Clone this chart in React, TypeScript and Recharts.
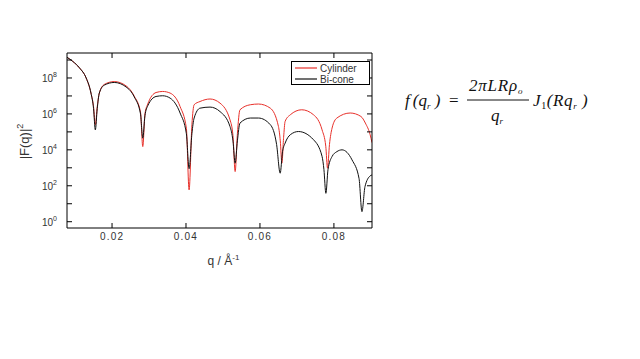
import { LineChart, Line, XAxis, YAxis } from 'recharts';

// q in 1/Å, intensities stored as log10 |F(q)|^2
const cylinderQ = [
  0.00782, 0.0094, 0.0112, 0.013, 0.0143, 0.015, 0.01548, 0.016, 0.01656, 0.0179,
  0.0206, 0.0238, 0.026, 0.0277, 0.02831, 0.0289, 0.02966, 0.0319, 0.0337, 0.0357,
  0.0384, 0.0401, 0.04084, 0.0416, 0.0422, 0.0438, 0.0465, 0.0492, 0.0519, 0.0527,
  0.05329, 0.0539, 0.0546, 0.0574, 0.0596, 0.0628, 0.065, 0.0655, 0.06593, 0.0664,
  0.0668, 0.0682, 0.0713, 0.0745, 0.0768, 0.0778, 0.07827, 0.0788, 0.0795, 0.0808,
  0.0844, 0.0873, 0.0885, 0.0898, 0.0903,
];
const cylinderLog = [
  9.15, 8.92, 8.56, 8.0, 7.16, 6.4, 5.39, 6.4, 7.16, 7.64,
  7.8, 7.56, 6.99, 6.1, 4.18, 6.0, 6.55, 7.19, 7.25, 7.16,
  6.41, 5.2, 1.77, 5.4, 6.51, 6.69, 6.83, 6.6, 5.67, 4.8,
  2.79, 4.9, 6.23, 6.51, 6.55, 6.32, 5.3, 4.5, 3.26, 4.7,
  5.58, 5.95, 6.23, 5.95, 5.11, 4.2, 2.98, 4.3, 5.21, 5.77,
  6.05, 5.86, 5.49, 4.84, 4.4,
];

const biconeQ = [
  0.00782, 0.0094, 0.0112, 0.013, 0.0143, 0.015, 0.01548, 0.016, 0.01656, 0.0179,
  0.0206, 0.0238, 0.026, 0.0277, 0.02831, 0.0289, 0.02966, 0.0319, 0.0337, 0.0357,
  0.0384, 0.0401, 0.04084, 0.0416, 0.0422, 0.0438, 0.0465, 0.0492, 0.0519, 0.0527,
  0.05329, 0.0539, 0.0546, 0.0574, 0.0596, 0.0628, 0.0645, 0.06547, 0.0661, 0.0668,
  0.0682, 0.0704, 0.0745, 0.0768, 0.0773, 0.07783, 0.0784, 0.0795, 0.0808, 0.0822,
  0.0849, 0.0868, 0.08758, 0.0884, 0.0898, 0.0903,
];
const biconeLog = [
  9.15, 8.92, 8.56, 8.0, 7.16, 6.3, 5.11, 6.3, 7.16, 7.6,
  7.75, 7.5, 6.95, 6.0, 4.65, 5.9, 6.45, 6.97, 7.01, 6.88,
  6.05, 4.9, 2.95, 4.9, 5.77, 6.32, 6.38, 6.13, 5.3, 4.5,
  3.26, 4.5, 5.49, 5.77, 5.77, 5.4, 4.3, 2.7, 3.9, 4.37,
  4.84, 5.02, 4.56, 3.63, 2.9, 1.58, 2.9, 3.63, 3.9, 4.0,
  3.44, 2.4, 0.56, 1.95, 2.55, 2.6,
];

const seriesNames = ['Cylinder', 'Bi-cone'];
const seriesColors = ['#e8302a', '#111111'];
const xTicks = [0.02, 0.04, 0.06, 0.08];
const yTicks = [0, 1, 2, 3, 4, 5, 6, 7, 8, 9];

const cylinderData = cylinderQ.map((q, i) => ({ q, v: cylinderLog[i] }));
const biconeData = biconeQ.map((q, i) => ({ q, v: biconeLog[i] }));

const FONT = '"Liberation Sans", Arial, sans-serif';
const TICK = 5;

const LeftTick = (p: any) => {
  const n = p.payload.value;
  return (
    <g>
      <line x1={p.x} x2={p.x + TICK} y1={p.y} y2={p.y} stroke="#000" />
      {n % 2 === 0 && (
        <text x={p.x - 10} y={p.y + 4} textAnchor="end" fontSize={10} fill="#333" fontFamily={FONT}>
          10<tspan dy={-5} fontSize={7}>{n}</tspan>
        </text>
      )}
    </g>
  );
};

const RightTick = (p: any) => (
  <line x1={p.x - TICK} x2={p.x} y1={p.y} y2={p.y} stroke="#000" />
);

const BottomTick = (p: any) => (
  <g>
    <line x1={p.x} x2={p.x} y1={p.y - TICK} y2={p.y} stroke="#000" />
    <text x={p.x} y={p.y + 12} textAnchor="middle" fontSize={10} letterSpacing={1.2} fill="#333" fontFamily={FONT}>
      {p.payload.value.toFixed(2)}
    </text>
  </g>
);

const TopTick = (p: any) => (
  <line x1={p.x} x2={p.x} y1={p.y} y2={p.y + TICK} stroke="#000" />
);

export default function App() {
  return (
    <div style={{ position: 'absolute', left: 0, top: 0, width: 640, height: 359, background: '#fff' }}>
      <LineChart
        width={640}
        height={359}
        margin={{ top: 43, right: 258, bottom: 91, left: 7 }}
      >
        <XAxis
          xAxisId="b"
          type="number"
          dataKey="q"
          domain={[0.00782, 0.0903]}
          allowDataOverflow
          ticks={xTicks}
          interval={0}
          height={40}
          tickSize={0}
          tickMargin={0}
          tickLine={false}
          axisLine={{ stroke: '#000' }}
          tick={BottomTick}
          label={{
            content: ({ viewBox }: any) => (
              <text
                x={viewBox.x + viewBox.width / 2 + 4}
                y={viewBox.y + 37}
                textAnchor="middle"
                fontSize={12}
                fill="#333"
                fontFamily={FONT}
              >
                q / Å<tspan dy={-5} fontSize={8}>-1</tspan>
              </text>
            ),
          }}
        />
        <XAxis
          xAxisId="t"
          orientation="top"
          type="number"
          dataKey="q"
          domain={[0.00782, 0.0903]}
          allowDataOverflow
          ticks={xTicks}
          interval={0}
          height={10}
          tickSize={0}
          tickMargin={0}
          tickLine={false}
          axisLine={{ stroke: '#000' }}
          tick={TopTick}
        />
        <YAxis
          yAxisId="l"
          type="number"
          domain={[-0.35, 9.39]}
          allowDataOverflow
          ticks={yTicks}
          interval={0}
          width={60}
          tickSize={0}
          tickMargin={0}
          tickLine={false}
          axisLine={{ stroke: '#000' }}
          tick={LeftTick}
          label={{
            content: ({ viewBox }: any) => {
              const cx = 29;
              const cy = viewBox.y + viewBox.height / 2 + 1;
              return (
                <text
                  x={cx}
                  y={cy}
                  transform={`rotate(-90 ${cx} ${cy})`}
                  textAnchor="middle"
                  fontSize={13}
                  fill="#333"
                  fontFamily={FONT}
                >
                  |F(q)|<tspan dy={-6} fontSize={9}>2</tspan>
                </text>
              );
            },
          }}
        />
        <YAxis
          yAxisId="r"
          orientation="right"
          type="number"
          domain={[-0.35, 9.39]}
          allowDataOverflow
          ticks={yTicks}
          interval={0}
          width={10}
          tickSize={0}
          tickMargin={0}
          tickLine={false}
          axisLine={{ stroke: '#000' }}
          tick={RightTick}
        />
        <Line
          xAxisId="b"
          yAxisId="l"
          data={cylinderData}
          dataKey="v"
          name={seriesNames[0]}
          type="monotone"
          stroke={seriesColors[0]}
          strokeWidth={1}
          dot={false}
          isAnimationActive={false}
        />
        <Line
          xAxisId="b"
          yAxisId="l"
          data={biconeData}
          dataKey="v"
          name={seriesNames[1]}
          type="monotone"
          stroke={seriesColors[1]}
          strokeWidth={1}
          dot={false}
          isAnimationActive={false}
        />
      </LineChart>

      {/* legend box, top right of the plot */}
      <svg style={{ position: 'absolute', left: 291, top: 61 }} width={80} height={25}>
        <rect x={0.5} y={0.5} width={78} height={23} fill="#fff" stroke="#000" />
        {seriesNames.map((name, i) => (
          <g key={name}>
            <line x1={4} x2={26} y1={7 + i * 11} y2={7 + i * 11} stroke={seriesColors[i]} strokeWidth={1.2} />
            <text x={29} y={11 + i * 11} fontSize={10} fill="#333" fontFamily={FONT}>
              {name}
            </text>
          </g>
        ))}
      </svg>

      {/* form factor expression */}
      <svg style={{ position: 'absolute', left: 0, top: 0 }} width={640} height={359}>
        <g fontFamily='"Liberation Serif", "Times New Roman", serif' fontStyle="italic" fontSize={17} fill="#111">
          <text x={405} y={106}>
            f<tspan dx={3}>(q</tspan><tspan fontSize={9} dy={3}>r</tspan><tspan dy={-3}> )</tspan>
          </text>
          <text x={449} y={106} fontStyle="normal">=</text>
          <line x1={467} x2={529} y1={100} y2={100} stroke="#111" strokeWidth={1} />
          <text x={469} y={91} letterSpacing={0.8}>
            2πLRρ<tspan fontSize={9} dy={3}>o</tspan>
          </text>
          <text x={491} y={121}>
            q<tspan fontSize={9} dy={3}>r</tspan>
          </text>
          <text x={533} y={106} letterSpacing={0.6}>
            J<tspan fontSize={10} dy={3} fontStyle="normal">1</tspan><tspan dy={-3}>(Rq</tspan>
            <tspan fontSize={9} dy={3}>r</tspan><tspan dy={-3}> )</tspan>
          </text>
        </g>
      </svg>
    </div>
  );
}
